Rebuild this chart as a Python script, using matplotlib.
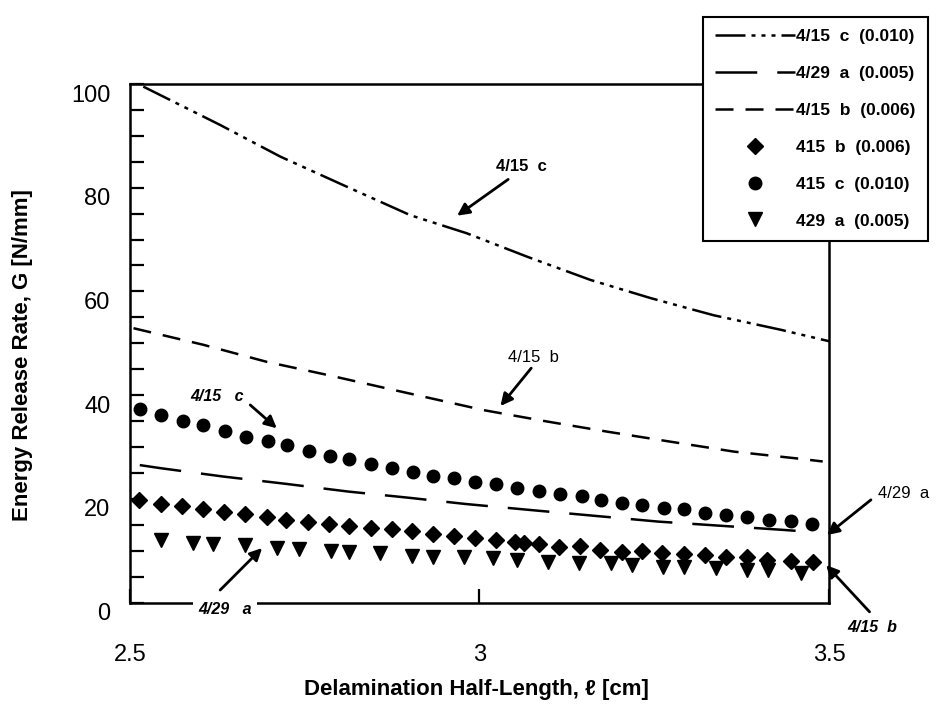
import matplotlib
matplotlib.use("Agg")
from matplotlib import pyplot as plt
from matplotlib.lines import Line2D
from matplotlib.transforms import ScaledTranslation

plt.rcParams['font.family'] = ['Liberation Sans', 'DejaVu Sans']

# analysis curves
c_line_x = [2.519, 2.629, 2.715, 2.810, 2.901, 2.982, 3.068, 3.159, 3.245, 3.335, 3.431, 3.503]
c_line_y = [99.5, 92.1, 86.0, 80.2, 74.7, 71.2, 66.7, 62.2, 58.7, 55.4, 52.6, 50.3]

a_line_x = [2.514, 2.544, 2.633, 2.722, 2.812, 2.899, 2.980, 3.076, 3.166, 3.256, 3.345, 3.435, 3.465]
a_line_y = [26.5, 25.9, 24.3, 22.9, 21.4, 20.2, 19.0, 17.8, 16.7, 15.6, 14.8, 14.0, 13.7]

b_line_x = [2.505, 2.605, 2.696, 2.782, 2.877, 3.006, 3.097, 3.185, 3.274, 3.364, 3.453, 3.491]
b_line_y = [52.9, 49.7, 46.4, 43.9, 41.0, 37.1, 34.9, 32.9, 31.0, 29.1, 27.8, 27.2]

# test points
b_pts_x = [2.513, 2.545, 2.574, 2.604, 2.635, 2.665, 2.696, 2.723, 2.755, 2.785, 2.814, 2.845,
           2.875, 2.903, 2.933, 2.963, 2.993, 3.023, 3.051, 3.063, 3.085, 3.114, 3.144, 3.173,
           3.204, 3.233, 3.261, 3.292, 3.323, 3.352, 3.383, 3.412, 3.445, 3.477]
b_pts_y = [19.8, 19.0, 18.7, 18.0, 17.5, 17.1, 16.5, 15.9, 15.5, 15.1, 14.8, 14.4,
           14.1, 13.7, 13.2, 12.8, 12.4, 12.1, 11.7, 11.5, 11.3, 10.8, 10.9, 10.1,
           9.8, 9.9, 9.5, 9.4, 9.2, 8.8, 8.8, 8.2, 8.0, 7.8]

c_pts_x = [2.515, 2.545, 2.576, 2.605, 2.636, 2.666, 2.698, 2.725, 2.756, 2.786, 2.814, 2.845,
           2.875, 2.905, 2.934, 2.963, 2.994, 3.023, 3.054, 3.085, 3.115, 3.146, 3.174, 3.204,
           3.233, 3.264, 3.292, 3.323, 3.352, 3.383, 3.414, 3.446, 3.475]
c_pts_y = [37.3, 36.2, 35.1, 34.2, 33.1, 31.9, 31.1, 30.4, 29.2, 28.3, 27.7, 26.8,
           26.0, 25.2, 24.4, 24.0, 23.3, 22.8, 22.0, 21.6, 20.9, 20.5, 19.8, 19.2,
           18.8, 18.2, 18.0, 17.2, 16.9, 16.4, 16.0, 15.7, 15.1]

a_pts_x = [2.544, 2.590, 2.619, 2.665, 2.710, 2.742, 2.787, 2.814, 2.857, 2.904, 2.933, 2.978,
           3.020, 3.054, 3.098, 3.142, 3.188, 3.218, 3.262, 3.293, 3.338, 3.383, 3.413, 3.460]
a_pts_y = [12.1, 11.5, 11.3, 11.1, 10.6, 10.3, 9.9, 9.7, 9.5, 9.0, 8.8, 8.7,
           8.5, 8.2, 7.9, 7.6, 7.6, 7.2, 6.9, 6.9, 6.6, 6.3, 6.3, 5.7]

x_ticks = [2.5, 3, 3.5]
x_tick_labels = ['2.5', '3', '3.5']
y_ticks = [0, 20, 40, 60, 80, 100]

fig = plt.figure(figsize=(9.37, 7.11), dpi=100)
ax = fig.add_axes([130 / 937, 1 - 602.5 / 711, 699 / 937, 518.5 / 711])

lw = 1.8
dash_c = (12, 2.4, 1.6, 2.4, 1.6, 2.4, 1.6, 2.4)
dash_a = (16.7, 8)
dash_b = (7.2, 4.8)

ax.plot(c_line_x, c_line_y, color='black', lw=lw, dashes=dash_c)
ax.plot(a_line_x, a_line_y, color='black', lw=lw, dashes=dash_a)
ax.plot(b_line_x, b_line_y, color='black', lw=lw, dashes=dash_b)
ax.plot(b_pts_x, b_pts_y, 'D', color='black', ms=8.5, ls='none')
ax.plot(c_pts_x, c_pts_y, 'o', color='black', ms=9, ls='none')
ax.plot(a_pts_x, a_pts_y, 'v', color='black', ms=10.5, ls='none')

ax.set_xlim(2.5, 3.5)
ax.set_ylim(0, 100)
ax.set_xticks(x_ticks)
ax.set_xticklabels(x_tick_labels)
ax.set_yticks(y_ticks)
ax.set_yticks(range(0, 101, 5), minor=True)
ax.tick_params(axis='both', which='both', direction='in', length=10, width=1.6, labelsize=17)
ax.tick_params(axis='x', pad=30)
ax.tick_params(axis='y', pad=14)
for sp in ax.spines.values():
    sp.set_linewidth(1.8)

# scanned labels sit a bit low
shift = ScaledTranslation(0, -0.09, fig.dpi_scale_trans)
for lab in ax.get_yticklabels():
    lab.set_transform(lab.get_transform() + shift)

fig.text(23 / 937, 1 - 355 / 711, 'Energy Release Rate, G [N/mm]', rotation=90,
         ha='center', va='center', fontsize=16, fontweight='bold')
fig.text(476 / 937, 1 - 690 / 711, 'Delamination Half-Length, ℓ [cm]',
         ha='center', va='center', fontsize=16, fontweight='bold')

# annotations
arrow = dict(arrowstyle='-|>', color='black', lw=2, mutation_scale=18, shrinkA=0, shrinkB=0)
ax.annotate('', xy=(2.968, 74.6), xytext=(3.041, 81.6), arrowprops=arrow)
ax.text(3.060, 84.0, '4/15  c', ha='center', va='center', fontsize=12, fontweight='bold')
ax.annotate('', xy=(3.030, 37.9), xytext=(3.074, 45.2), arrowprops=arrow)
ax.text(3.077, 47.2, '4/15  b', ha='center', va='center', fontsize=12)
ax.annotate('', xy=(2.710, 33.6), xytext=(2.672, 38.1), arrowprops=arrow)
ax.text(2.625, 39.8, '4/15   c', ha='center', va='center', fontsize=11.5,
        fontweight='bold', style='italic')
ax.annotate('', xy=(2.689, 10.5), xytext=(2.629, 2.4), arrowprops=arrow)
ax.text(2.636, -1.3, '4/29   a', ha='center', va='center', fontsize=11.5,
        fontweight='bold', style='italic', clip_on=False,
        bbox=dict(facecolor='white', edgecolor='none', pad=4), zorder=4)
ax.annotate('', xy=(3.497, 13.0), xytext=(3.560, 19.8), arrowprops=arrow,
            annotation_clip=False)
ax.text(3.570, 21.1, '4/29  a', ha='left', va='center', fontsize=12, clip_on=False)
ax.annotate('', xy=(3.496, 7.2), xytext=(3.558, -1.8), arrowprops=arrow,
            annotation_clip=False)
ax.text(3.526, -4.9, '4/15  b', ha='left', va='center', fontsize=11.5,
        fontweight='bold', style='italic', clip_on=False)

handles = [
    Line2D([], [], color='black', lw=lw, dashes=dash_c),
    Line2D([], [], color='black', lw=lw, dashes=dash_a),
    Line2D([], [], color='black', lw=lw, dashes=dash_b),
    Line2D([], [], color='black', marker='D', ms=8.5, ls='none'),
    Line2D([], [], color='black', marker='o', ms=9, ls='none'),
    Line2D([], [], color='black', marker='v', ms=10.5, ls='none'),
]
labels = ['4/15  c  (0.010)', '4/29  a  (0.005)', '4/15  b  (0.006)',
          '415  b  (0.006)', '415  c  (0.010)', '429  a  (0.005)']
leg = fig.legend(handles, labels, loc='upper right', bbox_to_anchor=(928 / 937, 1 - 17 / 711),
                 borderaxespad=0, handlelength=4.6, handletextpad=0.1,
                 labelspacing=1.25, borderpad=0.7, fancybox=False, framealpha=1,
                 edgecolor='black', prop={'weight': 'bold', 'size': 12.5})
leg.get_frame().set_linewidth(1.5)

fig.savefig('out.png', dpi=100)
